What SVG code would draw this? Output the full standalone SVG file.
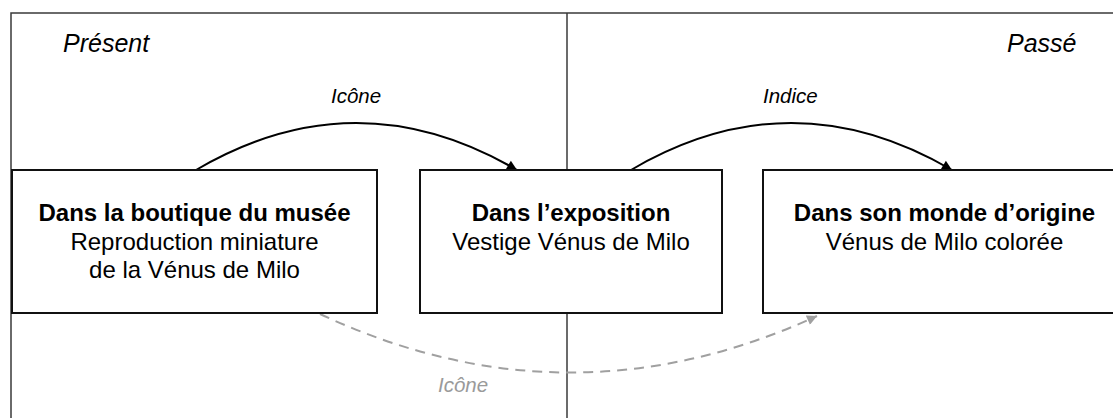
<svg xmlns="http://www.w3.org/2000/svg" width="1113" height="418" viewBox="0 0 1113 418">
  <style>
    .frame { stroke: #3a3a3a; stroke-width: 1.5; fill: none; }
    .box { fill: #ffffff; stroke: #111111; stroke-width: 2; }
    .title { font-family: "Liberation Sans", Arial, sans-serif; font-weight: bold; font-size: 24px; fill: #000; text-anchor: middle; }
    .body { font-family: "Liberation Sans", Arial, sans-serif; font-size: 24px; fill: #000; text-anchor: middle; }
    .era { font-family: "Liberation Sans", Arial, sans-serif; font-style: italic; font-size: 25px; fill: #000; }
    .lbl { font-family: "Liberation Sans", Arial, sans-serif; font-style: italic; font-size: 20.5px; fill: #000; }
    .lbl-gray { font-family: "Liberation Sans", Arial, sans-serif; font-style: italic; font-size: 20.5px; fill: #9a9a9a; }
    .arc { fill: none; stroke: #000; stroke-width: 2; }
    .arc-dash { fill: none; stroke: #a0a0a0; stroke-width: 2; stroke-dasharray: 10 7; }
  </style>
  <defs>
    <marker id="ah" viewBox="0 0 10 10" refX="10" refY="5" markerWidth="11" markerHeight="10" markerUnits="userSpaceOnUse" orient="auto">
      <path d="M0,0 L10,5 L0,10 z" fill="#000"/>
    </marker>
    <marker id="ahg" viewBox="0 0 10 10" refX="10" refY="5" markerWidth="11" markerHeight="10" markerUnits="userSpaceOnUse" orient="auto">
      <path d="M0,0 L10,5 L0,10 z" fill="#a0a0a0"/>
    </marker>
  </defs>
  <rect x="0" y="0" width="1113" height="418" fill="#ffffff"/>

  <g id="frame">
    <path class="frame" d="M11,418 L11,13 L1113,13"/>
    <line class="frame" x1="567" y1="13" x2="567" y2="418"/>
    <text class="era" x="63" y="52">Présent</text>
    <text class="era" x="1007" y="52">Passé</text>
  </g>

  <g id="connectors">
    <path class="arc" d="M196,170 Q356,76 517,170" marker-end="url(#ah)"/>
    <path class="arc" d="M631,170 Q791,76 952,170" marker-end="url(#ah)"/>
    <path class="arc-dash" d="M320,314 Q568,430 817,316" marker-end="url(#ahg)"/>
    <text class="lbl" x="331" y="103">Icône</text>
    <text class="lbl" x="763" y="103">Indice</text>
    <text class="lbl-gray" x="438" y="392">Icône</text>
  </g>

  <g id="node-boutique">
    <rect class="box" x="12" y="170" width="365" height="143"/>
    <text class="title" x="194.5" y="221">Dans la boutique du musée</text>
    <text class="body" x="194.5" y="250">Reproduction miniature</text>
    <text class="body" x="194.5" y="278">de la Vénus de Milo</text>
  </g>

  <g id="node-exposition">
    <rect class="box" x="420" y="170" width="302" height="143"/>
    <text class="title" x="571" y="221">Dans l’exposition</text>
    <text class="body" x="571" y="250">Vestige Vénus de Milo</text>
  </g>

  <g id="node-origine">
    <rect class="box" x="763" y="170" width="363" height="143"/>
    <text class="title" x="944.5" y="221">Dans son monde d’origine</text>
    <text class="body" x="944.5" y="250">Vénus de Milo colorée</text>
  </g>
</svg>
